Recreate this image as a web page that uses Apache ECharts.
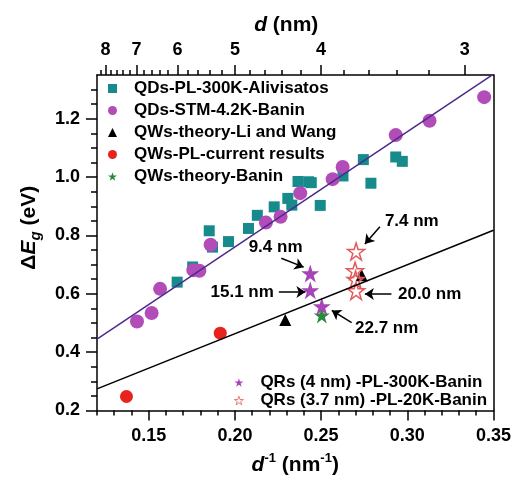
<!DOCTYPE html>
<html>
<head>
<meta charset="utf-8">
<script src="https://cdn.jsdelivr.net/npm/echarts@6/dist/echarts.min.js"></script>
<style>
html,body{margin:0;padding:0;background:#fff;}
#main{width:514px;height:481px;}
</style>
</head>
<body>
<div id="main"></div>
<script>
// ---- data (d^-1 in nm^-1, ΔEg in eV) ----
const qdAlivisatos = [[0.1665,0.640],[0.1755,0.692],[0.1851,0.816],[0.1870,0.760],[0.1963,0.779],[0.2079,0.824],[0.2130,0.869],[0.2228,0.898],[0.2307,0.927],[0.2330,0.904],[0.2366,0.985],[0.2428,0.984],[0.2443,0.981],[0.2495,0.903],[0.2627,1.004],[0.2745,1.060],[0.2789,0.979],[0.2933,1.069],[0.2971,1.054]];
const qdBanin = [[0.1432,0.505],[0.1517,0.534],[0.1566,0.617],[0.1759,0.681],[0.1794,0.679],[0.1859,0.768],[0.2180,0.844],[0.2265,0.864],[0.2379,0.945],[0.2567,0.993],[0.2625,1.035],[0.2933,1.144],[0.3129,1.193],[0.3446,1.274]];
const qwLiWang = [[0.2292,0.510],[0.2735,0.664]];
const qwPL = [[0.1371,0.248],[0.1915,0.465]];
const qwBanin = [[0.2504,0.526]];
const qr4 = [[0.2437,0.670],[0.2437,0.612],[0.2504,0.557]];
const qr37 = [[0.2703,0.745],[0.2697,0.679],[0.2700,0.649],[0.2703,0.610]];
const fitQD = [[0.12,0.445],[0.35,1.353]];
const fitQW = [[0.12,0.274],[0.35,0.818]];

const seriesNames = ['QDs-PL-300K-Alivisatos','QDs-STM-4.2K-Banin','QWs-theory-Li and Wang','QWs-PL-current results','QWs-theory-Banin','QRs (4 nm) -PL-300K-Banin','QRs (3.7 nm) -PL-20K-Banin'];

// ---- ticks ----
const bottomMajor = [0.15,0.20,0.25,0.30,0.35];
const bottomMinor = [0.12,0.13,0.14,0.16,0.17,0.18,0.19,0.21,0.22,0.23,0.24,0.26,0.27,0.28,0.29,0.31,0.32,0.33,0.34];
const leftMajor = [0.2,0.4,0.6,0.8,1.0,1.2];
const leftMinor = [0.25,0.3,0.35,0.45,0.5,0.55,0.65,0.7,0.75,0.85,0.9,0.95,1.05,1.1,1.15,1.25,1.3];
const topMajorD = [8,7,6,5,4,3];
const topMinorD = [8.2,7.8,7.6,7.4,7.2,6.8,6.6,6.4,6.2,5.8,5.6,5.4,5.2,4.8,4.6,4.4,4.2,3.8,3.6,3.4,3.2];

// ---- annotations ----
const annoLabels = [
  {text:'9.4 nm', at:[0.2236,0.760], align:'center'},
  {text:'15.1 nm', at:[0.2226,0.606], align:'right'},
  {text:'7.4 nm', at:[0.2870,0.848], align:'left'},
  {text:'20.0 nm', at:[0.2946,0.599], align:'left'},
  {text:'22.7 nm', at:[0.2697,0.481], align:'left'}
];
const annoArrows = [
  [[0.2269,0.7218],[0.2399,0.6914]],
  [[0.2255,0.6060],[0.2409,0.6060]],
  [[0.2841,0.8297],[0.2754,0.7710]],
  [[0.2908,0.5990],[0.2754,0.5990]],
  [[0.2677,0.5012],[0.2562,0.5430]]
];

const FONT = 'Liberation Sans, Arial, sans-serif';
const STAR = 'path://M50 0 L61.2 34.5 L97.6 34.5 L68.2 55.9 L79.4 90.5 L50 69.1 L20.6 90.5 L31.8 55.9 L2.4 34.5 L38.8 34.5 Z';
const X0 = 0.12, X1 = 0.35, Y0 = 0.2, Y1 = 1.35;
const lineBlack = {lineStyle:{color:'#000',width:1.5}};

const chart = echarts.init(document.getElementById('main'), null, {renderer:'canvas'});
const tickLabel = {fontFamily:FONT, fontWeight:'bold', fontSize:18, color:'#000'};

const option = {
  animation:false,
  backgroundColor:'#fff',
  grid:{left:97,right:18,top:75,bottom:65,containLabel:false},
  legend:[
    {
      data:seriesNames.slice(0,5).map((n,i)=>({name:n, icon:['rect','circle','triangle','circle',STAR][i]})),
      orient:'vertical', left:103, top:75, itemWidth:9, itemHeight:9, itemGap:5,
      selectedMode:false,
      textStyle:{fontFamily:FONT, fontWeight:'bold', fontSize:17, color:'#000', lineHeight:17, padding:[0,0,0,12]}
    },
    {
      data:[{name:seriesNames[5], icon:STAR},{name:seriesNames[6], icon:STAR, itemStyle:{borderWidth:0.8}}],
      orient:'vertical', left:229, top:369, itemWidth:9, itemHeight:9, itemGap:1,
      selectedMode:false,
      textStyle:{fontFamily:FONT, fontWeight:'bold', fontSize:17, color:'#000', lineHeight:17, padding:[0,0,0,12]}
    }
  ],
  xAxis:[
    {type:'value', position:'bottom', min:X0, max:X1, splitLine:{show:false},
     axisLine:{show:true, onZero:false, ...lineBlack},
     axisTick:{show:true, inside:false, length:10, customValues:bottomMajor, lineStyle:{color:'#000',width:1.5}},
     axisLabel:{show:true, customValues:bottomMajor, margin:17, formatter:v=>v.toFixed(2), ...tickLabel},
     name:'{i|d}{s|-1}{n| (nm}{s|-1}{n|)}', nameLocation:'middle', nameGap:41,
     nameTextStyle:{rich:{
       i:{fontFamily:FONT, fontWeight:'bold', fontStyle:'italic', fontSize:21, lineHeight:28, color:'#000'},
       n:{fontFamily:FONT, fontWeight:'bold', fontSize:21, lineHeight:28, color:'#000'},
       s:{fontFamily:FONT, fontWeight:'bold', fontSize:13, lineHeight:13, verticalAlign:'top', color:'#000'}
     }}},
    {type:'value', position:'bottom', min:X0, max:X1, splitLine:{show:false},
     axisLine:{show:false, onZero:false},
     axisTick:{show:true, inside:false, length:5, customValues:bottomMinor, lineStyle:{color:'#000',width:1.5}},
     axisLabel:{show:false}},
    {type:'value', position:'top', min:X0, max:X1, splitLine:{show:false},
     axisLine:{show:true, onZero:false, ...lineBlack},
     axisTick:{show:true, inside:false, length:10, customValues:topMajorD.map(d=>1/d), lineStyle:{color:'#000',width:1.5}},
     axisLabel:{show:true, customValues:topMajorD.map(d=>1/d), margin:16, formatter:v=>String(Math.round(1/v)), ...tickLabel},
     name:'{i|d}{n| (nm)}', nameLocation:'middle', nameGap:35,
     nameTextStyle:{padding:[0,18,0,0], rich:{
       i:{fontFamily:FONT, fontWeight:'bold', fontStyle:'italic', fontSize:21, lineHeight:28, color:'#000'},
       n:{fontFamily:FONT, fontWeight:'bold', fontSize:21, lineHeight:28, color:'#000'}
     }}},
    {type:'value', position:'top', min:X0, max:X1, splitLine:{show:false},
     axisLine:{show:false, onZero:false},
     axisTick:{show:true, inside:false, length:5, customValues:topMinorD.map(d=>1/d), lineStyle:{color:'#000',width:1.5}},
     axisLabel:{show:false}}
  ],
  yAxis:[
    {type:'value', position:'left', min:Y0, max:Y1, splitLine:{show:false},
     axisLine:{show:true, onZero:false, ...lineBlack},
     axisTick:{show:true, inside:false, length:11, customValues:leftMajor, lineStyle:{color:'#000',width:1.5}},
     axisLabel:{show:true, customValues:leftMajor, margin:17, formatter:v=>v.toFixed(1), ...tickLabel},
     name:'{n|Δ}{e|E}{g|g}{n| (eV)}', nameLocation:'middle', nameGap:54,
     nameTextStyle:{padding:[0,0,0,30], rich:{
       n:{fontFamily:FONT, fontWeight:'bold', fontSize:21, lineHeight:28, color:'#000'},
       e:{fontFamily:FONT, fontWeight:'bold', fontStyle:'italic', fontSize:21, lineHeight:28, color:'#000'},
       g:{fontFamily:FONT, fontWeight:'bold', fontStyle:'italic', fontSize:15, lineHeight:15, verticalAlign:'bottom', color:'#000'}
     }}},
    {type:'value', position:'left', min:Y0, max:Y1, splitLine:{show:false},
     axisLine:{show:false, onZero:false},
     axisTick:{show:true, inside:false, length:6, customValues:leftMinor, lineStyle:{color:'#000',width:1.5}},
     axisLabel:{show:false}},
    {type:'value', position:'right', min:Y0, max:Y1, splitLine:{show:false},
     axisLine:{show:true, onZero:false, ...lineBlack},
     axisTick:{show:false}, axisLabel:{show:false}}
  ],
  series:[
    {name:seriesNames[0], type:'scatter', data:qdAlivisatos, symbol:'rect', symbolSize:11, itemStyle:{color:'#178a8c', opacity:1}, z:3},
    {name:seriesNames[1], type:'scatter', data:qdBanin, symbol:'circle', symbolSize:14, itemStyle:{color:'#b24cb8', opacity:1}, z:3},
    {name:seriesNames[2], type:'scatter', data:qwLiWang, symbol:'triangle', symbolSize:12, itemStyle:{color:'#000', opacity:1}, z:3},
    {name:seriesNames[3], type:'scatter', data:qwPL, symbol:'circle', symbolSize:13, itemStyle:{color:'#e8231d', opacity:1}, z:3},
    {name:seriesNames[4], type:'scatter', data:qwBanin, symbol:STAR, symbolSize:16, itemStyle:{color:'#258c3a', opacity:1}, z:3},
    {name:seriesNames[5], type:'scatter', data:qr4, symbol:STAR, symbolSize:18, itemStyle:{color:'#a646b6', opacity:1}, z:4},
    {name:seriesNames[6], type:'scatter', data:qr37, symbol:STAR, symbolSize:17, itemStyle:{color:'rgba(255,255,255,0)', borderColor:'#e25a5a', borderWidth:1.5, opacity:1}, z:4},
    {name:'fitQD', type:'line', data:fitQD, symbol:'none', lineStyle:{color:'#4c2a8c', width:1.5}, z:5, silent:true},
    {name:'fitQW', type:'line', data:fitQW, symbol:'none', lineStyle:{color:'#000', width:1.5}, z:5, silent:true},
    {name:'arrows', type:'lines', coordinateSystem:'cartesian2d', symbol:['none','arrow'], symbolSize:9,
     lineStyle:{color:'#000', width:1.5, opacity:1}, data:annoArrows.map(c=>({coords:c})), z:6, silent:true},
    {name:'labels', type:'scatter', symbolSize:0, silent:true, z:6, itemStyle:{color:'#000', opacity:1},
     data:annoLabels.map(a=>({value:a.at, label:{align:a.align}, name:a.text})),
     label:{show:true, position:[0,0], formatter:p=>p.name, fontFamily:FONT, fontWeight:'bold', fontSize:17, color:'#000', opacity:1, verticalAlign:'middle', textBorderWidth:0}}
  ]
};
chart.setOption(option);
</script>
</body>
</html>
